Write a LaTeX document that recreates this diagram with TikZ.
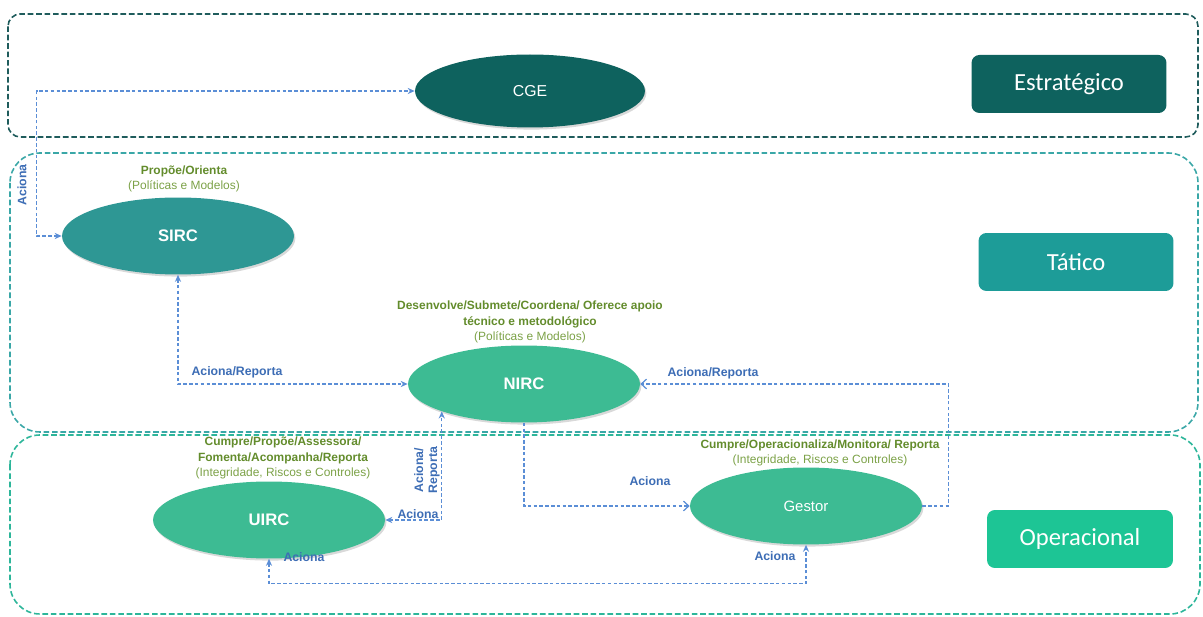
\documentclass[tikz,border=0pt]{standalone}
\usepackage{fontspec}
\setmainfont{Liberation Sans}
\newfontfamily\boxfont{Carlito}
\usepackage{tikz}
\usetikzlibrary{arrows.meta,shapes.geometric,shadows}
\definecolor{mydark}{HTML}{0E625E}
\definecolor{myteal}{HTML}{2E9794}
\definecolor{mygreen}{HTML}{3DBB93}
\definecolor{mybright}{HTML}{1DC595}
\definecolor{mytealbox}{HTML}{1D9C98}
\definecolor{myblue}{HTML}{5B8ED6}
\definecolor{mybluetxt}{HTML}{3D6DB5}
\definecolor{myolive}{HTML}{638C2C}
\definecolor{myolivelt}{HTML}{7BA146}
\definecolor{bandtop}{HTML}{1F5C5C}
\definecolor{bandmid}{HTML}{3AA7A7}
\definecolor{bandlow}{HTML}{2DB69A}
\newcommand{\rolehead}[1]{{\color{myolive}\bfseries #1}}

\begin{document}
\begin{tikzpicture}[x=0.02cm, y=-0.02cm, >={Stealth[length=4pt,width=3.5pt]},
  band/.style={line width=0.9pt, dash pattern=on 3.2pt off 1.6pt},
  unit/.style={ellipse, minimum width=4.64cm, minimum height=1.54cm, inner sep=0pt, text=white,
    font=\fontsize{9.5}{11}\selectfont\bfseries,
    drop shadow={shadow xshift=0.8pt, shadow yshift=-1.2pt, opacity=0.3}},
  level/.style={rectangle, rounded corners=4.5pt, minimum width=3.9cm, minimum height=1.16cm,
    text=white, font=\boxfont\fontsize{14}{16}\selectfont},
  conn/.style={myblue, line width=0.7pt, dash pattern=on 2pt off 1.3pt},
  barb/.style={-{Straight Barb[length=3pt,width=5.5pt]}},
  act/.style={text=mybluetxt, font=\fontsize{7}{8}\selectfont\bfseries, inner sep=1pt},
  role/.style={align=center, text=myolivelt, font=\fontsize{6.8}{9}\selectfont}
]
  \useasboundingbox (0,0) rectangle (1203,617);

  \draw[band, bandtop, rounded corners=7pt] (8,14) rectangle (1198,137);
  \draw[band, bandmid, rounded corners=17pt] (10,153) rectangle (1198,432);
  \draw[band, bandlow, rounded corners=17pt] (10,435) rectangle (1200,614);

  \node[unit, fill=mydark, font=\fontsize{9}{11}\selectfont, minimum width=4.6cm, minimum height=1.46cm] (cge) at (530,91) {CGE};
  \node[unit, fill=myteal] (sirc) at (178,236) {SIRC};
  \node[unit, fill=mygreen] (nirc) at (524,384) {NIRC};
  \node[unit, fill=mygreen] (uirc) at (269,520) {UIRC};
  \node[unit, fill=mygreen, font=\fontsize{8.5}{10}\selectfont] (gestor) at (806,506) {Gestor};

  \node[level, fill=mydark] (estrat) at (1069,84) {Estratégico};
  \node[level, fill=mytealbox] (tatico) at (1076,262) {Tático};
  \node[level, fill=mybright, minimum width=3.72cm] (operac) at (1080,539) {Operacional};

  \node[role] (sircrole) at (184,179) {\rolehead{Propõe/Orienta}\\(Políticas e Modelos)};
  \node[role] (nircrole) at (530,322) {\rolehead{Desenvolve/Submete/Coordena/ Oferece apoio}\\\rolehead{técnico e metodológico}\\(Políticas e Modelos)};
  \node[role] (uircrole) at (283,458) {\rolehead{Cumpre/Propõe/Assessora/}\\\rolehead{Fomenta/Acompanha/Reporta}\\(Integridade, Riscos e Controles)};
  \node[role] (gestorrole) at (820,453) {\rolehead{Cumpre/Operacionaliza/Monitora/ Reporta}\\(Integridade, Riscos e Controles)};

  \draw[conn,<->] (sirc.west) -- ++(-25,0) |- (cge.west);
  \draw[conn,<->] (sirc.south) |- (nirc.west);
  \draw[conn,barb] (gestor.east) -- ++(26,0) |- (nirc.east);
  \draw[conn,barb] (nirc.south) |- (gestor.west);
  \draw[conn,<->] (uirc.east) -| (nirc.south west);
  \draw[conn,<->] (uirc.south) -- ++(0,25) -| (gestor.south);

  \node[act, rotate=90] (acCge) at (22,185) {Aciona};
  \node[act] (acSirc) at (237,372) {Aciona/Reporta};
  \node[act] (acGestor) at (713,373) {Aciona/Reporta};
  \node[act] (acNirc) at (650,481) {Aciona};
  \node[act] (acUirc) at (418,514) {Aciona};
  \node[act, rotate=90, align=center] (acUp) at (427,470) {Aciona/\\Reporta};
  \node[act] (acLow1) at (304,557) {Aciona};
  \node[act] (acLow2) at (775,556) {Aciona};
\end{tikzpicture}
\end{document}
